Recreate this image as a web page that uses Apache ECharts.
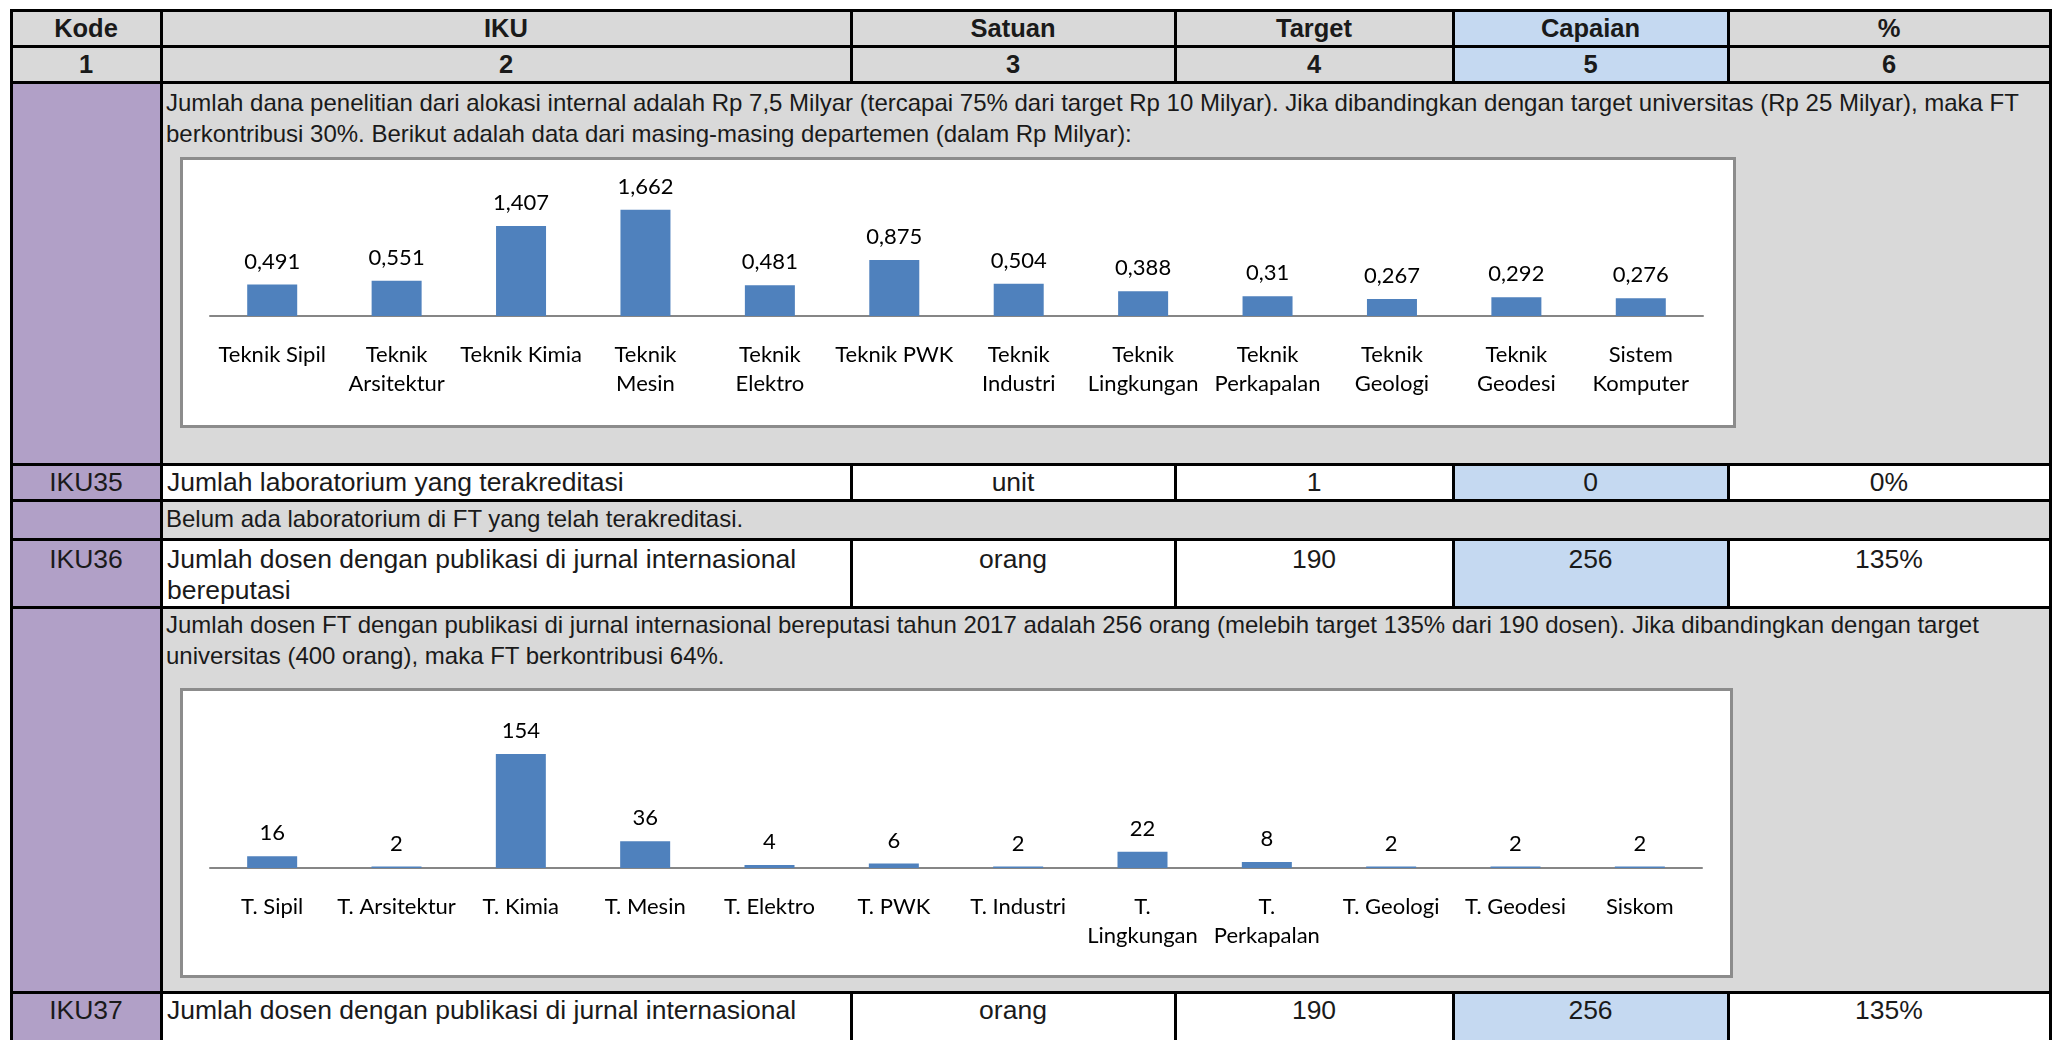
<!DOCTYPE html>
<html>
<head>
<meta charset="utf-8">
<script src="https://cdn.jsdelivr.net/npm/echarts@6/dist/echarts.min.js"></script>
<style>
  body { margin: 0; width: 2056px; height: 1040px; overflow: hidden; background: #fff;
         font-family: 'Liberation Sans', Arial, sans-serif; color: #1a1a1a; }
  .c { position: absolute; box-sizing: border-box; white-space: nowrap; overflow: hidden; }
  .ln { position: absolute; background: #000; }
  .box { position: absolute; box-sizing: border-box; background: #fff; border: 3px solid #8c8c8c; }
</style>
</head>
<body>
<div id="tbl"></div>
<div id="chart1" class="box" style="left:180px;top:157px;width:1556px;height:271px"></div>
<div id="chart2" class="box" style="left:180px;top:688px;width:1553px;height:290px"></div>
<script>
// data dana penelitian per departemen (Rp Milyar)
var danaDept = ['Teknik Sipil', 'Teknik\nArsitektur', 'Teknik Kimia', 'Teknik\nMesin', 'Teknik\nElektro', 'Teknik PWK',
  'Teknik\nIndustri', 'Teknik\nLingkungan', 'Teknik\nPerkapalan', 'Teknik\nGeologi', 'Teknik\nGeodesi', 'Sistem\nKomputer'];
var danaValues = [0.491, 0.551, 1.407, 1.662, 0.481, 0.875, 0.504, 0.388, 0.31, 0.267, 0.292, 0.276];

// data dosen dengan publikasi internasional
var dosenDept = ['T. Sipil', 'T. Arsitektur', 'T. Kimia', 'T. Mesin', 'T. Elektro', 'T. PWK', 'T. Industri',
  'T.\nLingkungan', 'T.\nPerkapalan', 'T. Geologi', 'T. Geodesi', 'Siskom'];
var dosenValues = [16, 2, 154, 36, 4, 6, 2, 22, 8, 2, 2, 2];

// tabel
var colX = [11, 161, 851, 1175, 1453, 1728, 2050];
var rowY = [10, 46, 82, 464, 500, 539, 607, 992, 1060];
var GREY = '#d9d9d9', PURPLE = '#b1a0c7', BLUE = '#c5d9f1', WHITE = '#ffffff';

var tbl = document.getElementById('tbl');
function cell(c0, c1, r, bg, html, style) {
  var d = document.createElement('div');
  d.className = 'c';
  d.style.cssText = 'left:' + colX[c0] + 'px;top:' + rowY[r] + 'px;width:' + (colX[c1] - colX[c0]) +
    'px;height:' + (rowY[r + 1] - rowY[r]) + 'px;background:' + bg + ';' + (style || '');
  d.innerHTML = html || '';
  tbl.appendChild(d);
}
function line(x, y, w, h) {
  var d = document.createElement('div');
  d.className = 'ln';
  d.style.cssText = 'left:' + x + 'px;top:' + y + 'px;width:' + w + 'px;height:' + h + 'px';
  tbl.appendChild(d);
}

var head = 'font-weight:bold;font-size:25.5px;text-align:center;line-height:36px;';
var mid = 'font-size:26.5px;text-align:center;line-height:36px;';
var left = 'font-size:26.5px;line-height:36px;padding-left:6px;';
var topc = 'font-size:26.5px;text-align:center;line-height:31px;padding-top:5px;';
var desc = 'font-size:24px;line-height:31px;padding:5px 0 0 5px;';

var headers = ['Kode', 'IKU', 'Satuan', 'Target', 'Capaian', '%'];
for (var i = 0; i < 6; i++) {
  cell(i, i + 1, 0, i == 4 ? BLUE : GREY, headers[i], head);
  cell(i, i + 1, 1, i == 4 ? BLUE : GREY, String(i + 1), head);
}

cell(0, 1, 2, PURPLE);
cell(1, 6, 2, GREY, 'Jumlah dana penelitian dari alokasi internal adalah Rp 7,5 Milyar (tercapai 75% dari target Rp 10 Milyar). Jika dibandingkan dengan target universitas (Rp 25 Milyar), maka FT<br>berkontribusi 30%. Berikut adalah data dari masing-masing departemen (dalam Rp Milyar):', desc);

cell(0, 1, 3, PURPLE, 'IKU35', mid);
cell(1, 2, 3, WHITE, 'Jumlah laboratorium yang terakreditasi', left);
cell(2, 3, 3, WHITE, 'unit', mid);
cell(3, 4, 3, WHITE, '1', mid);
cell(4, 5, 3, BLUE, '0', mid);
cell(5, 6, 3, WHITE, '0%', mid);

cell(0, 1, 4, PURPLE);
cell(1, 6, 4, GREY, 'Belum ada laboratorium di FT yang telah terakreditasi.', 'font-size:24px;line-height:31px;padding:3px 0 0 5px;');

cell(0, 1, 5, PURPLE, 'IKU36', topc);
cell(1, 2, 5, WHITE, 'Jumlah dosen dengan publikasi di jurnal internasional<br>bereputasi', topc + 'text-align:left;padding-left:6px;');
cell(2, 3, 5, WHITE, 'orang', topc);
cell(3, 4, 5, WHITE, '190', topc);
cell(4, 5, 5, BLUE, '256', topc);
cell(5, 6, 5, WHITE, '135%', topc);

cell(0, 1, 6, PURPLE);
cell(1, 6, 6, GREY, 'Jumlah dosen FT dengan publikasi di jurnal internasional bereputasi tahun 2017 adalah 256 orang (melebih target 135% dari 190 dosen). Jika dibandingkan dengan target<br>universitas (400 orang), maka FT berkontribusi 64%.', desc.replace('5px 0 0', '2px 0 0'));

var topd = topc.replace('padding-top:5px', 'padding-top:3px');
cell(0, 1, 7, PURPLE, 'IKU37', topd);
cell(1, 2, 7, WHITE, 'Jumlah dosen dengan publikasi di jurnal internasional', topd + 'text-align:left;padding-left:6px;');
cell(2, 3, 7, WHITE, 'orang', topd);
cell(3, 4, 7, WHITE, '190', topd);
cell(4, 5, 7, BLUE, '256', topd);
cell(5, 6, 7, WHITE, '135%', topd);

// garis tabel
for (var r = 0; r < 8; r++) line(colX[0] - 1, rowY[r] - 1, colX[6] - colX[0] + 3, 3);
[0, 1, 6].forEach(function (c) { line(colX[c] - 1, rowY[0] - 1, 3, 1040); });
[0, 1, 3, 5, 7].forEach(function (r) {
  for (var c = 2; c <= 5; c++) line(colX[c] - 1, rowY[r] - 1, 3, rowY[r + 1] - rowY[r] + 3);
});

// grafik batang
function barOption(cats, vals, max, grid, fmt) {
  return {
    animation: false,
    grid: grid,
    xAxis: {
      type: 'category',
      data: cats,
      axisLine: { lineStyle: { color: '#868686', width: 2 } },
      axisTick: { length: 8, lineStyle: { color: '#868686', width: 2 } },
      axisLabel: { interval: 0, color: '#000', fontFamily: 'Lato', fontSize: 22, lineHeight: 29, margin: 24 }
    },
    yAxis: { type: 'value', min: 0, max: max, show: false },
    series: [{
      type: 'bar',
      data: vals,
      barWidth: 50,
      itemStyle: { color: '#4f81bd' },
      label: { show: true, position: 'top', distance: 12, color: '#000', fontFamily: 'Lato', fontSize: 22, formatter: fmt }
    }]
  };
}

var chart1 = echarts.init(document.getElementById('chart1'));
chart1.setOption(barOption(danaDept, danaValues, 2, { left: 27, right: 30, top: 28, bottom: 109 },
  function (p) { return String(p.value).replace('.', ','); }));

var chart2 = echarts.init(document.getElementById('chart2'));
chart2.setOption(barOption(dosenDept, dosenValues, 200, { left: 27, right: 28, top: 29, bottom: 107 }, '{c}'));
</script>
</body>
</html>
